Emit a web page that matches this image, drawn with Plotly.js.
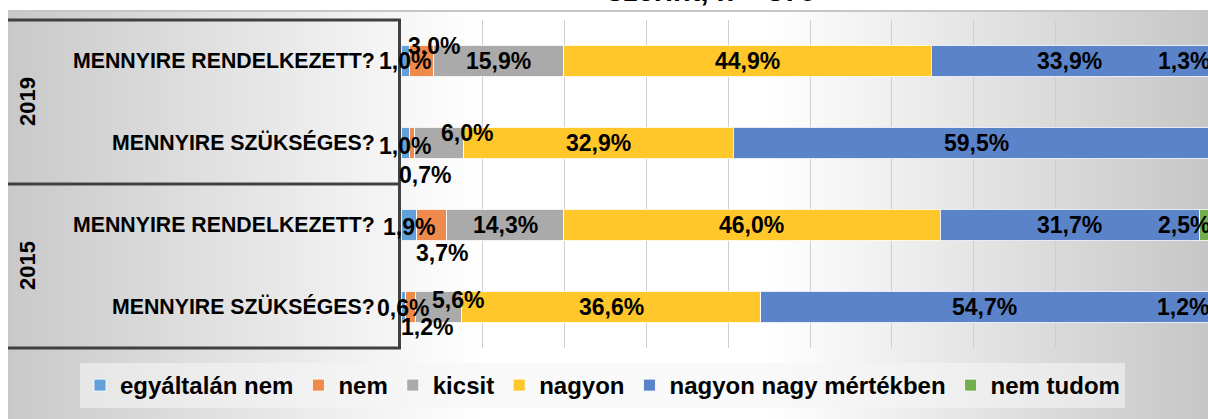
<!DOCTYPE html>
<html>
<head>
<meta charset="utf-8">
<script src="https://cdn.plot.ly/plotly-3.0.1.min.js"></script>
<style>
  html, body { margin: 0; padding: 0; overflow: hidden; background: #ffffff; }
  #wrap { position: relative; width: 1219px; height: 419px; }
  #bg { position: absolute; left: 8px; top: 10px; width: 1211px; height: 409px;
        border-top: 2px solid #c6c6c6; border-left: 1px solid #c6c6c6; box-sizing: border-box;
        background: linear-gradient(90deg, #c9c9c9 0px, #f6f6f6 390px, #ffffff 470px, #ffffff 760px, #c6c6c6 1200px); }
  #chart { position: absolute; left: 0; top: 0; width: 1219px; height: 419px; }
</style>
</head>
<body>
<div id="wrap"><div id="bg"></div><div id="chart"></div></div>
<script>
// ---- data ----
const years = ['2019', '2019', '2015', '2015'];
const questions = ['MENNYIRE RENDELKEZETT?', 'MENNYIRE SZÜKSÉGES?', 'MENNYIRE RENDELKEZETT?', 'MENNYIRE SZÜKSÉGES?'];
const seriesNames = ['egyáltalán nem', 'nem', 'kicsit', 'nagyon', 'nagyon nagy mértékben', 'nem tudom'];
const egyaltalanNem = [1.0, 1.0, 1.9, 0.6];
const nem = [3.0, 0.7, 3.7, 1.2];
const kicsit = [15.9, 6.0, 14.3, 5.6];
const nagyon = [44.9, 32.9, 46.0, 36.6];
const nagyonNagy = [33.9, 59.5, 31.7, 54.7];
const nemTudom = [1.3, null, 2.5, 1.2];
const titleText = 'szerint, n = 375';

// ---- styles ----
const colors = ['#62A0DA', '#EE8A4C', '#AAAAAA', '#FFC72A', '#5B83C9', '#72AE4C'];
const FONT = 'Liberation Sans, Arial, sans-serif';
// label pixel offsets [dx, dy] (dy positive = down), keyed "series,row"
const labelOffsets = {
  '1,0': [13, -15], '0,1': [0, 3], '1,1': [13, 32], '2,1': [28, -10],
  '0,2': [0, 2], '1,2': [10, 28], '0,3': [0, 1], '1,3': [16, 20], '2,3': [19, -7],
  '5,0': [-30, 0], '5,2': [-26, 0], '5,3': [-30, 0]
};

const series = [egyaltalanNem, nem, kicsit, nagyon, nagyonNagy, nemTudom];
const ids = years.map((y, i) => y + ' ' + questions[i]);

const traces = series.map((vals, s) => ({
  type: 'bar', orientation: 'h', name: seriesNames[s],
  y: ids, x: vals,
  marker: { color: colors[s], line: { color: 'rgba(255,255,255,0.85)', width: 1 } },
  hoverinfo: 'skip'
}));

const annotations = [];
const cum = ids.map(() => 0);
series.forEach((vals, s) => {
  vals.forEach((v, r) => {
    if (v === null || v === undefined) return;
    const center = cum[r] + v / 2;
    cum[r] += v;
    const off = labelOffsets[s + ',' + r] || [0, 0];
    annotations.push({
      x: center, y: ids[r], xref: 'x', yref: 'y',
      text: v.toFixed(1).replace('.', ',') + '%', showarrow: false,
      xshift: off[0], yshift: -off[1],
      font: { family: FONT, size: 23, color: '#000', weight: 'bold' }
    });
  });
});

// year group labels
[['2019', 0.75], ['2015', 0.25]].forEach(([t, yp]) => {
  annotations.push({
    x: 0, y: yp, xref: 'paper', yref: 'paper', text: t, showarrow: false,
    xanchor: 'center', yanchor: 'middle',
    textangle: -90, xshift: -374,
    font: { family: FONT, size: 22, color: '#000', weight: 'bold' }
  });
});
// (cropped) title
annotations.push({
  x: 0.38, y: 1, xref: 'paper', yref: 'paper', xanchor: 'center', yanchor: 'bottom', yshift: 11,
  text: titleText, showarrow: false,
  font: { family: FONT, size: 29, color: '#000', weight: 'bold' }
});

const lineStyle = { color: '#404040', width: 3 };
const shapes = [1, 0.5, 0].map(yp => ({
  type: 'line', xref: 'paper', yref: 'paper', x0: -0.4804, x1: 0, y0: yp, y1: yp, line: lineStyle
}));

const layout = {
  width: 1219, height: 419,
  margin: { l: 401, r: 0, t: 20, b: 71 },
  paper_bgcolor: 'rgba(0,0,0,0)', plot_bgcolor: 'rgba(0,0,0,0)',
  barmode: 'stack', bargap: 0.61,
  xaxis: { range: [0, 100], dtick: 10, showgrid: true, gridcolor: '#cfcfcf', gridwidth: 1,
           zeroline: false, showticklabels: false, ticks: '', fixedrange: true },
  yaxis: { type: 'category', autorange: 'reversed', tickvals: ids, ticktext: questions,
           showgrid: false, zeroline: false, showline: true, linecolor: '#404040', linewidth: 3,
           ticks: '', ticklabelstandoff: 19,
           tickfont: { family: FONT, size: 21.3, color: '#000', weight: 'bold' }, fixedrange: true },
  showlegend: true,
  legend: { orientation: 'h', xref: 'paper', yref: 'paper', x: (80 - 401) / 818, y: -(363 - 348) / 328,
            xanchor: 'left', yanchor: 'top', bgcolor: 'rgba(245,245,245,0.6)', borderwidth: 0,
            itemwidth: 30, traceorder: 'normal',
            font: { family: FONT, size: 24, color: '#000', weight: 'bold' } },
  annotations: annotations,
  shapes: shapes
};

Plotly.newPlot('chart', traces, layout, { displayModeBar: false, staticPlot: true });
</script>
</body>
</html>
